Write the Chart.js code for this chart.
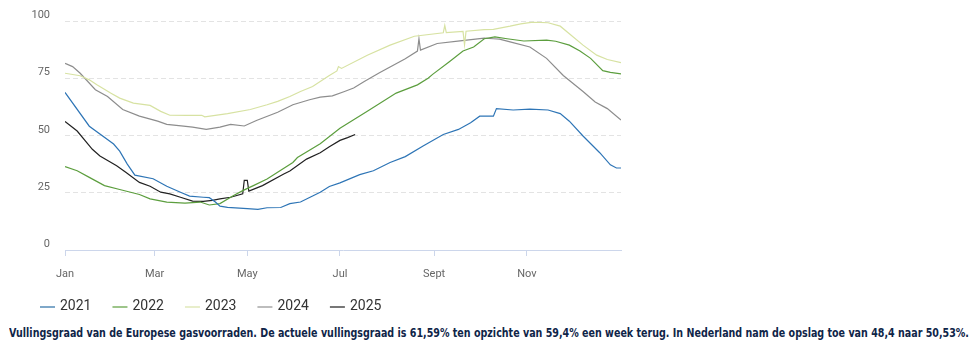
<!DOCTYPE html>
<html lang="nl">
<head>
<meta charset="utf-8">
<title>Vullingsgraad gasvoorraden</title>
<script src="https://cdn.jsdelivr.net/npm/chart.js@4.4.1/dist/chart.umd.min.js"></script>
<style>
  html, body { margin: 0; padding: 0; background: #fff; }
  #wrap { position: relative; width: 979px; height: 318px; }
  #caption {
    position: absolute; left: 9px; top: 326px;
    font: bold 11.5px "DejaVu Sans", Verdana, sans-serif;
    color: #0f2548; white-space: nowrap; transform-origin: 0 0;
  }
</style>
</head>
<body>
<div id="wrap"><canvas id="gasChart" width="979" height="318"></canvas></div>
<div id="caption">Vullingsgraad van de Europese gasvoorraden. De actuele vullingsgraad is 61,59% ten opzichte van 59,4% een week terug. In Nederland nam de opslag toe van 48,4 naar 50,53%.</div>

<script>
// day of year (0 = 1 jan) and filling level in %
const days2021 = [0, 16, 32, 36, 41, 46, 58, 67, 76, 82, 91, 95, 99, 102, 107, 120, 127, 133, 142, 148, 155, 168, 174, 181, 194, 203, 214, 224, 236, 249, 259, 267, 273, 282, 284, 295, 306, 318, 326, 332, 341, 352, 359, 363, 366];
const fill2021 = [69.0, 54.2, 46.4, 43.3, 37.6, 32.8, 31.2, 27.9, 25.3, 23.6, 23.1, 22.9, 21.0, 19.2, 18.7, 18.1, 17.8, 18.5, 18.6, 20.3, 21.0, 25.3, 27.8, 29.4, 33.0, 34.7, 38.3, 40.9, 45.6, 50.6, 52.8, 55.7, 58.6, 58.6, 61.9, 61.3, 61.7, 61.3, 59.7, 56.4, 49.9, 42.6, 37.3, 35.9, 35.9];

const days2022 = [0, 8, 16, 26, 36, 49, 56, 67, 79, 89, 95, 102, 111, 117, 124, 133, 150, 153, 168, 181, 199, 218, 232, 239, 242, 253, 262, 269, 276, 283, 291, 302, 317, 323, 332, 339, 346, 354, 359, 366];
const fill2022 = [36.5, 34.7, 31.8, 28.2, 26.5, 24.3, 22.4, 21.0, 20.5, 21.0, 19.7, 20.3, 23.9, 26.0, 28.2, 31.1, 38.3, 40.5, 46.5, 53.3, 60.7, 68.7, 72.3, 75.2, 76.9, 82.4, 87.1, 88.9, 92.5, 93.3, 92.5, 91.5, 91.9, 91.4, 89.7, 87.1, 83.9, 78.5, 77.8, 77.1];

const days2023 = [0, 10, 16, 21, 30, 36, 45, 56, 63, 69, 80, 90, 92, 107, 122, 133, 140, 148, 155, 163, 174, 179, 180, 182, 199, 214, 230, 249, 250, 251, 262, 263, 264, 276, 282, 293, 300, 308, 318, 326, 332, 341, 350, 357, 366];
const fill2023 = [77.4, 76.3, 74.5, 72.3, 68.7, 66.5, 64.3, 63.3, 60.7, 59.0, 58.9, 59.0, 58.3, 59.7, 61.5, 63.6, 65.1, 67.2, 69.4, 71.6, 76.4, 78.4, 80.3, 79.5, 85.3, 89.7, 93.6, 95.1, 98.3, 95.2, 95.7, 89.9, 95.8, 96.5, 96.6, 98.0, 99.0, 99.8, 99.5, 98.0, 94.7, 89.7, 85.3, 83.4, 82.0];

const days2024 = [0, 5, 10, 20, 28, 38, 49, 61, 67, 78, 84, 93, 102, 109, 118, 126, 140, 150, 161, 168, 176, 184, 190, 197, 207, 224, 232, 233, 234, 245, 260, 276, 282, 286, 293, 306, 317, 328, 341, 349, 357, 366];
const fill2024 = [81.7, 80.3, 77.4, 70.2, 67.2, 61.5, 58.6, 56.4, 55.0, 54.2, 53.8, 52.8, 53.8, 55.0, 54.3, 56.7, 60.3, 63.6, 65.8, 66.9, 67.5, 69.4, 70.9, 73.8, 77.6, 83.7, 87.1, 92.5, 87.5, 90.4, 91.6, 92.8, 92.5, 92.3, 91.1, 88.9, 83.9, 76.4, 69.4, 64.8, 61.9, 56.9];

const days2025 = [0, 8, 18, 23, 34, 40, 49, 56, 63, 69, 76, 84, 91, 97, 102, 109, 117, 118, 120, 121, 130, 144, 148, 159, 168, 174, 181, 186, 191];
const fill2025 = [56.3, 52.1, 44.1, 41.2, 36.9, 34.0, 29.6, 27.9, 25.3, 24.6, 23.1, 21.4, 21.3, 21.7, 22.4, 23.1, 24.6, 30.5, 30.5, 25.8, 28.2, 33.3, 34.6, 39.8, 42.6, 45.2, 48.0, 49.2, 50.6];

const years = ['2021', '2022', '2023', '2024', '2025'];
const yearColors = ['#2e75b6', '#5c9e3e', '#d7e2a2', '#8d8d8d', '#222222'];
const legendColors = ['#7fa8c9', '#9dc58a', '#e8eecb', '#bdbdbd', '#777777'];

const monthStarts = [0, 59, 120, 181, 243, 304];
const monthLabels = ['Jan', 'Mar', 'May', 'Jul', 'Sept', 'Nov'];
const yTicks = [0, 25, 50, 75, 100];

const allDays = [days2021, days2022, days2023, days2024, days2025];
const allFill = [fill2021, fill2022, fill2023, fill2024, fill2025];

const datasets = years.map((y, i) => ({
  label: y,
  data: allDays[i].map((d, k) => ({ x: d, y: allFill[i][k] })),
  borderColor: yearColors[i],
  borderWidth: 1.2,
  pointRadius: 0,
  tension: 0,
  fill: false
}));

// simple line legend under the axis
const lineLegend = {
  id: 'lineLegend',
  afterDraw(chart) {
    const ctx = chart.ctx;
    ctx.save();
    ctx.font = '14px Roboto, sans-serif';
    ctx.textBaseline = 'middle';
    let x = 40;
    const y = 306;
    years.forEach((label, i) => {
      ctx.strokeStyle = legendColors[i];
      ctx.lineWidth = 2;
      ctx.beginPath();
      ctx.moveTo(x, y + 1);
      ctx.lineTo(x + 15, y + 1);
      ctx.stroke();
      ctx.fillStyle = '#333333';
      ctx.fillText(label, x + 20, y);
      x += 20 + ctx.measureText(label).width + 21;
    });
    ctx.restore();
  }
};

new Chart(document.getElementById('gasChart'), {
  type: 'line',
  data: { datasets: datasets },
  options: {
    responsive: false,
    animation: false,
    layout: { padding: { left: 0, right: 358, top: 19, bottom: 0 } },
    plugins: { legend: { display: false }, tooltip: { enabled: false } },
    scales: {
      x: {
        type: 'linear',
        min: 0,
        max: 366,
        afterBuildTicks: (scale) => { scale.ticks = monthStarts.map(v => ({ value: v })); },
        afterFit: (scale) => { scale.height = 68; },
        ticks: {
          autoSkip: false,
          maxRotation: 0,
          padding: 12,
          color: '#666666',
          font: { family: 'Roboto', size: 11 },
          callback: (v) => monthLabels[monthStarts.indexOf(v)]
        },
        grid: { drawOnChartArea: false, tickLength: 6, tickColor: '#ccd6eb' },
        border: { color: '#ccd6eb', width: 1 }
      },
      y: {
        min: 0,
        max: 100,
        afterBuildTicks: (scale) => { scale.ticks = yTicks.map(v => ({ value: v })); },
        afterFit: (scale) => { scale.width = 65; },
        ticks: {
          padding: 15,
          labelOffset: -6,
          color: '#666666',
          font: { family: 'Roboto', size: 11 }
        },
        grid: { color: '#e3e3e3', drawTicks: false, lineWidth: 1 },
        border: { display: false, dash: [5, 3] }
      }
    }
  },
  plugins: [lineLegend]
});

// squeeze the caption onto one line of fixed width
const cap = document.getElementById('caption');
const w = cap.getBoundingClientRect().width;
cap.style.transform = 'scaleX(' + (960 / w) + ')';
</script>
</body>
</html>
